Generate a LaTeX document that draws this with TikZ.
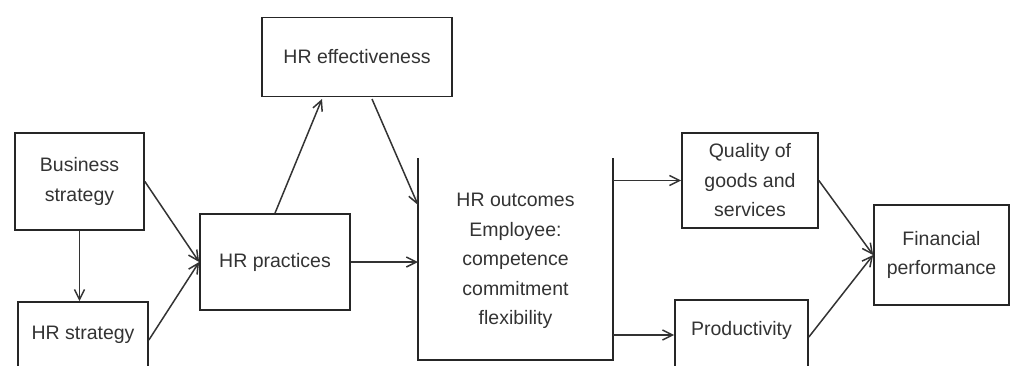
\documentclass[tikz,border=0pt]{standalone}
\usepackage{fontspec}
\setmainfont{Liberation Sans}
\usetikzlibrary{arrows.meta}
\begin{document}
\begin{tikzpicture}[x=1pt,y=-1pt,
  every node/.style={font=\fontsize{19.5}{29.5}\selectfont, text=black!80},
  blk/.style={draw=black!85, line width=1.7pt, align=center, inner sep=0pt},
  conn/.style={draw=black!80, line width=1.5pt, -{Straight Barb[length=10pt,width=10pt,line width=1.5pt]}},
  plain/.style={draw=black!85, line width=1.7pt}]
\useasboundingbox (0,0) rectangle (1010,365);
\clip (0,0) rectangle (1010,365);
\node[blk, minimum width=129pt, minimum height=97pt] (bs) at (79.5,181.5) {Business\\strategy};
\node[blk, minimum width=130pt, minimum height=76pt] (hrs) at (83,340) {};
\node at (83,335) {HR strategy};
\node[blk, minimum width=150pt, minimum height=96pt] (hrp) at (275,262) {HR practices};
\node[blk, minimum width=190pt, minimum height=79pt] (hre) at (357,57) {HR effectiveness};
\node[blk, minimum width=136pt, minimum height=95pt] (qual) at (750,180.5) {Quality of\\goods and\\services};
\node[blk, minimum width=133pt, minimum height=74pt] (prod) at (741.5,337) {};
\node at (741.5,330) {Productivity};
\node[blk, minimum width=135pt, minimum height=100pt] (fin) at (941.5,255) {Financial\\performance};
% outcomes open box
\coordinate (olt) at (418,158);
\coordinate (olb) at (418,360);
\coordinate (orb) at (613,360);
\coordinate (ort) at (613,158);
\draw[plain] (olt) -- (olb) -- (orb) -- (ort);
\node[align=center] (out) at (515.5,261) {HR outcomes\\Employee:\\competence\\commitment\\flexibility};
\coordinate (inA) at (418,205);
\coordinate (inB) at (418,262);
\coordinate (outA) at (613,180.5);
\coordinate (outB) at (613,335);
\coordinate (hreIn) at (322,99);
\coordinate (hreOut) at (372,99);
% connectors
\draw[conn] (bs.south) -- (hrs.north -| bs.south);
\draw[conn] (bs.east) -- (hrp.west);
\draw[conn] (hrs.east) -- (hrp.west);
\draw[conn] (hrp.north) -- (hreIn);
\draw[conn] (hreOut) -- (inA);
\draw[conn] (hrp.east) -- (inB);
\draw[conn] (outA) -- (qual.west);
\draw[conn] (outB) -- (outB -| prod.west);
\draw[conn] (qual.east) -- (fin.west);
\draw[conn] (prod.east) -- (fin.west);
\end{tikzpicture}
\end{document}
